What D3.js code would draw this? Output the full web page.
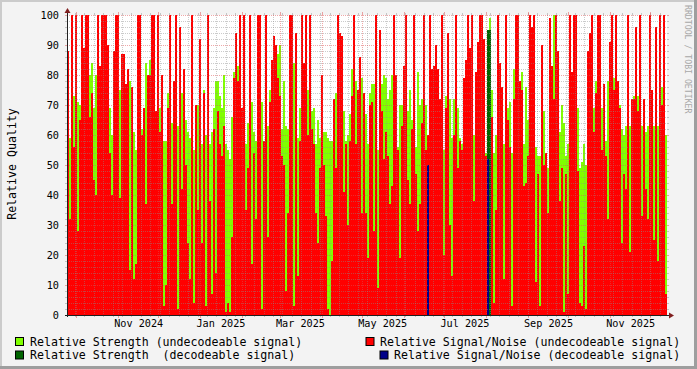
<!DOCTYPE html>
<html><head><meta charset="utf-8">
<script src="https://cdn.jsdelivr.net/npm/d3@7"></script>
<style>
body{margin:0;background:#f3f3f3}
svg{display:block}
text{font-family:"DejaVu Sans Mono",monospace}
</style>
</head><body>
<script>
// ---- time range of the graph (UTC) ----
const startDate = new Date(Date.UTC(2024, 8, 24, 4));
const endDate   = new Date(Date.UTC(2025, 11, 13, 7));

// ---- series values (one value per sample, left to right) ----
const snrUndecodeable = [
 88,32,100,56,100,28,65,100,89,100,100,66,74,45,40,100,83,100,100,100,90,54,40,88,100,100,39,87,87,77,82,15,76,12,17,100,100,60,69,37,80,80,100,100,68,100,61,80,3,10,
 69,100,37,78,100,2,96,42,82,50,24,12,100,4,70,35,92,24,74,3,100,38,7,62,14,68,57,53,63,1,4,1,26,79,94,78,100,69,100,35,49,100,17,54,32,100,100,2,58,100,
 26,71,85,93,90,79,73,53,50,8,34,100,100,3,94,13,58,100,84,100,60,100,62,57,34,24,49,80,50,33,2,0,18,72,49,100,94,93,41,57,30,58,73,100,57,75,86,34,74,34,
 19,70,71,28,100,9,95,68,52,61,53,37,43,100,80,55,19,63,83,100,45,37,62,100,47,28,37,64,100,55,60,100,82,83,90,82,72,100,20,69,94,30,13,60,100,49,58,55,79,85,
 100,89,100,38,81,91,100,100,92,53,3,45,66,4,35,100,84,76,12,100,65,56,3,72,100,100,78,75,43,44,53,100,96,100,11,47,3,90,50,54,34,99,83,72,100,88,38,49,1,47,
 7,100,81,100,100,48,4,3,23,2,88,94,100,61,74,100,100,55,77,53,32,91,100,75,100,78,69,24,47,42,100,21,72,72,96,68,100,33,72,42,32,100,75,25,96,18,100,70,100,7
];
const strengthUndecodeable = [
 0,59,60,73,70,71,70,94,84,70,72,80,84,69,80,60,65,90,0,0,0,69,60,60,0,60,75,70,0,0,0,78,60,61,55,60,0,62,68,84,70,85,0,0,60,62,69,62,58,58,
 74,70,64,72,70,63,60,74,69,65,61,59,68,55,55,70,57,57,75,60,70,57,61,69,78,78,73,69,80,57,55,52,66,81,0,83,0,63,62,57,64,73,71,61,58,52,0,71,57,76,
 63,75,0,0,0,87,90,62,78,63,62,59,55,84,0,59,69,60,65,0,75,0,68,69,57,65,59,78,61,61,59,58,58,60,74,0,0,0,68,58,60,67,82,0,78,75,0,79,0,67,
 57,74,77,77,0,55,0,77,80,79,72,75,80,0,0,56,70,70,0,0,68,75,65,0,56,81,70,72,0,70,0,0,0,0,0,72,72,0,55,73,0,72,59,72,0,69,59,57,0,0,
 58,0,60,60,0,0,0,0,0,54,54,99,75,54,60,0,0,57,57,0,69,71,54,82,0,0,0,81,57,76,65,0,0,0,56,53,53,0,68,53,49,0,83,100,0,0,61,70,64,53,
 57,73,0,0,69,69,49,51,57,50,50,0,0,69,78,0,0,69,58,58,78,0,0,79,0,78,70,62,60,63,0,63,66,73,0,73,0,63,61,61,63,0,74,63,0,63,0,76,0,60
];
// decodeable series: only a few samples carry a value (sample index, value)
const strengthDecodeable = [[210, 95], [211, 95]];
const snrDecodeable      = [[180, 50], [210, 52]];

// ---- ticks / labels ----
const yTicks = [0, 10, 20, 30, 40, 50, 60, 70, 80, 90, 100];
const xLabelMonths = ["2024-11", "2025-01", "2025-03", "2025-05", "2025-07", "2025-09", "2025-11"];
const legendLabels = [
  "Relative Strength (undecodeable signal)",
  "Relative Signal/Noise (undecodeable signal)",
  "Relative Strength  (decodeable signal)",
  "Relative Signal/Noise (decodeable signal)"
];
const yTitle = "Relative Quality";
const watermark = "RRDTOOL / TOBI OETIKER";

// ---- styles ----
const W = 697, H = 369, X0 = 67, X1 = 667, Y0 = 315, Y1 = 15;
const GREEN = "#80ff00", RED = "#ff0000", DKGREEN = "#006400", NAVY = "#000088";
const GRID = "rgba(140,140,140,0.45)", MGRID = "rgba(222,79,79,0.5)";

const svg = d3.select("body").append("svg").attr("width", W).attr("height", H);
svg.append("rect").attr("width", W).attr("height", H).attr("fill", "#f3f3f3");

const x = d3.scaleUtc().domain([startDate, endDate]).range([X0, X1]);
const y = d3.scaleLinear().domain([0, 100]).range([Y0, Y1]);

const N = snrUndecodeable.length;
const step = (endDate - startDate) / N;
const tAt = i => new Date(+startDate + i * step);

// canvas
svg.append("rect").attr("x", X0).attr("y", Y1).attr("width", X1 - X0).attr("height", Y0 - Y1).attr("fill", "#fff");

const marks = svg.append("g").attr("shape-rendering", "crispEdges");
function drawSeries(cls, data, color) {
  marks.append("g").selectAll("rect").data(data).join("rect")
    .attr("x", d => Math.round(x(tAt(d[0]))))
    .attr("width", d => Math.round(x(tAt(d[0] + 1))) - Math.round(x(tAt(d[0]))))
    .attr("y", d => y(d[1]))
    .attr("height", d => Y0 - y(d[1]))
    .attr("fill", color);
}
drawSeries("gs", strengthUndecodeable.map((v, i) => [i, v]).filter(d => d[1] > 0), GREEN);
drawSeries("rs", snrUndecodeable.map((v, i) => [i, v]).filter(d => d[1] > 0), RED);
drawSeries("dg", strengthDecodeable, DKGREEN);
drawSeries("nv", snrDecodeable, NAVY);

// grid
const grid = svg.append("g").attr("shape-rendering", "crispEdges");
const minorY = d3.range(0, 101, 2).filter(v => v % 10 !== 0);
function hline(v, col, major) {
  const yy = Math.round(y(v)) + 0.5;
  grid.append("line").attr("x1", X0).attr("x2", X1).attr("y1", yy).attr("y2", yy)
    .attr("stroke", col).attr("stroke-dasharray", "1,1");
  grid.append("line").attr("x1", X0 - 2).attr("x2", X0).attr("y1", yy).attr("y2", yy).attr("stroke", col);
  grid.append("line").attr("x1", X1).attr("x2", X1 + 2).attr("y1", yy).attr("y2", yy).attr("stroke", col);
}
function vline(t, col, major) {
  const xx = Math.round(x(t)) + 0.5;
  const ext = major ? 3 : 2;
  grid.append("line").attr("x1", xx).attr("x2", xx).attr("y1", Y1).attr("y2", Y0)
    .attr("stroke", col).attr("stroke-dasharray", "1,1");
  grid.append("line").attr("x1", xx).attr("x2", xx).attr("y1", Y1 - ext).attr("y2", Y1).attr("stroke", col);
  grid.append("line").attr("x1", xx).attr("x2", xx).attr("y1", Y0).attr("y2", Y0 + ext).attr("stroke", col);
}
minorY.forEach(v => hline(v, GRID));
d3.utcMonday.range(startDate, endDate).forEach(t => vline(t, GRID));
yTicks.filter(v => v > 0).forEach(v => hline(v, MGRID, true));
d3.utcMonth.range(startDate, endDate).forEach(t => vline(t, MGRID, true));

// axes lines + arrows
const AX = "#202020";
svg.append("line").attr("x1", X0 - 2).attr("x2", X1 + 4).attr("y1", Y0 + 0.5).attr("y2", Y0 + 0.5).attr("stroke", AX).attr("shape-rendering", "crispEdges");
svg.append("line").attr("x1", X0 + 0.5).attr("x2", X0 + 0.5).attr("y1", Y0 + 2).attr("y2", Y1 - 4).attr("stroke", AX).attr("shape-rendering", "crispEdges");
svg.append("path").attr("d", `M${X1 + 2},${Y0 - 2.5}L${X1 + 7},${Y0 + 0.5}L${X1 + 2},${Y0 + 3.5}Z`).attr("fill", "#801f1f");
svg.append("path").attr("d", `M${X0 - 2.5},${Y1 - 2}L${X0 + 0.5},${Y1 - 7}L${X0 + 3.5},${Y1 - 2}Z`).attr("fill", "#801f1f");

// y axis labels
const yAxis = svg.append("g").attr("transform", `translate(${X0},0)`)
  .call(d3.axisLeft(y).tickValues(yTicks).tickSize(0).tickPadding(8).tickFormat(d3.format("d")));
yAxis.select(".domain").remove();
yAxis.selectAll("text").attr("font-family", "DejaVu Sans Mono").attr("font-size", "10.2px").attr("fill", "#000");

// x axis labels: centred half a month after month start
const labelDates = xLabelMonths.map(m => d3.utcDay.offset(d3.utcParse("%Y-%m")(m), 15));
const xAxis = svg.append("g").attr("transform", `translate(0,${Y0})`)
  .call(d3.axisBottom(x).tickValues(labelDates).tickSize(0).tickPadding(5).tickFormat(d3.utcFormat("%b %Y")));
xAxis.select(".domain").remove();
xAxis.selectAll("text").attr("font-family", "DejaVu Sans Mono").attr("font-size", "10.2px").attr("fill", "#000");

// y title
svg.append("text").attr("transform", "translate(12,164) rotate(-90)")
  .attr("text-anchor", "middle").attr("dominant-baseline", "central")
  .attr("font-size", "11.6px").attr("fill", "#000").text(yTitle);

// watermark
svg.append("text").attr("transform", "translate(688,5) rotate(90)")
  .attr("text-anchor", "start").attr("dominant-baseline", "central")
  .attr("font-size", "8.2px").attr("fill", "#a8a8a8").text(watermark);

// legend
const legendPos = [
  {bx: 15, by: 337, tx: 30, col: GREEN},
  {bx: 365.5, by: 337, tx: 380, col: RED},
  {bx: 15, by: 350.5, tx: 30, col: DKGREEN},
  {bx: 379.5, by: 350.5, tx: 394, col: NAVY}
];
legendLabels.forEach((lab, i) => {
  const p = legendPos[i];
  svg.append("rect").attr("x", p.bx + 0.5).attr("y", p.by + 0.5).attr("width", 8).attr("height", 8)
    .attr("fill", p.col).attr("stroke", "#000").attr("stroke-width", 1);
  svg.append("text").attr("x", p.tx).attr("y", p.by + 4.8).attr("dominant-baseline", "central")
    .attr("font-size", "11.6px").attr("fill", "#000").style("white-space", "pre").text(lab);
});

// 3D border
const b = svg.append("g").attr("shape-rendering", "crispEdges");
b.append("rect").attr("x", 0).attr("y", 0).attr("width", W).attr("height", 2).attr("fill", "#cbcbcb");
b.append("rect").attr("x", 0).attr("y", 0).attr("width", 2).attr("height", H).attr("fill", "#cbcbcb");
b.append("rect").attr("x", W - 3).attr("y", 0).attr("width", 3).attr("height", H).attr("fill", "#9e9e9e");
b.append("rect").attr("x", 0).attr("y", H - 3).attr("width", W).attr("height", 3).attr("fill", "#9e9e9e");
</script>
</body></html>
